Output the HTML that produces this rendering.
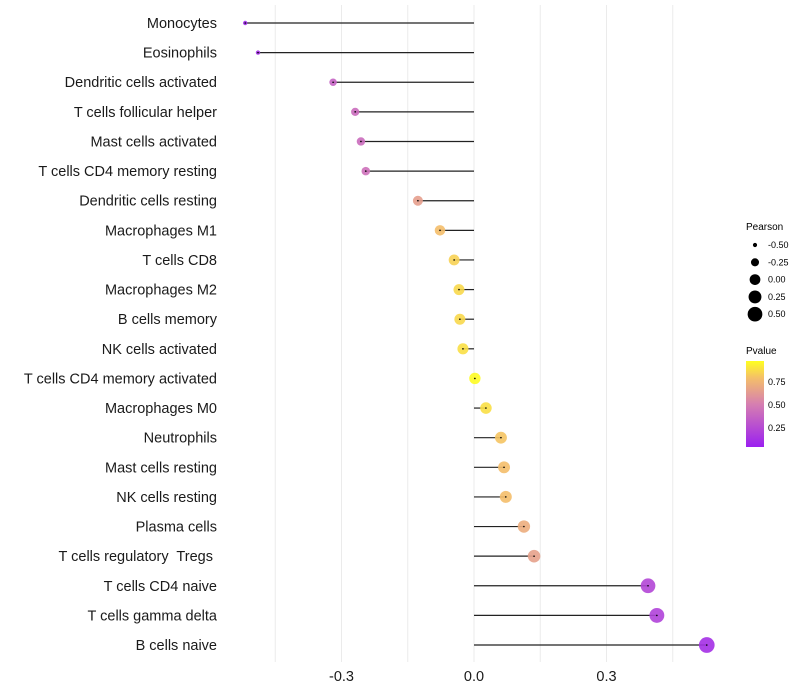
<!DOCTYPE html>
<html><head><meta charset="utf-8"><style>
body{margin:0;background:#fff;font-family:"Liberation Sans",sans-serif}
svg{display:block}
text{white-space:pre}
</style></head><body>
<svg id="chart" width="800" height="700">
<defs><linearGradient id="pg" x1="0" y1="1" x2="0" y2="0">
<stop offset="0" stop-color="#9B20F0"/><stop offset="0.5" stop-color="#D67FB0"/><stop offset="0.8" stop-color="#F4BE6A"/><stop offset="1" stop-color="#FFFF20"/></linearGradient></defs>
<g id="grid"></g>
<g id="marks"></g>
<g id="ylabels"></g>
<g id="xlabels"></g>
<g font-size="9">
<text x="746" y="230" font-size="10">Pearson</text>
<g id="sizeleg"></g>
</g>
<g font-size="9">
<text x="746" y="354" font-size="10">Pvalue</text>
<rect x="746" y="361" width="18" height="86" fill="url(#pg)"/>
<text x="768" y="385">0.75</text>
<text x="768" y="408">0.50</text>
<text x="768" y="431">0.25</text>
</g>
</svg>
<script>
const categories=["Monocytes","Eosinophils","Dendritic cells activated","T cells follicular helper","Mast cells activated","T cells CD4 memory resting","Dendritic cells resting","Macrophages M1","T cells CD8","Macrophages M2","B cells memory","NK cells activated","T cells CD4 memory activated","Macrophages M0","Neutrophils","Mast cells resting","NK cells resting","Plasma cells","T cells regulatory  Tregs ","T cells CD4 naive","T cells gamma delta","B cells naive"];
const pearson=[-0.518,-0.489,-0.319,-0.269,-0.256,-0.245,-0.127,-0.077,-0.045,-0.034,-0.032,-0.025,0.002,0.027,0.061,0.068,0.072,0.113,0.136,0.394,0.414,0.527];
const pvalue=[0.04,0.08,0.35,0.4,0.4,0.42,0.65,0.8,0.86,0.88,0.88,0.9,0.99,0.9,0.82,0.8,0.8,0.72,0.66,0.2,0.18,0.08];
const xTicks=[-0.3,0.0,0.3];
const xTickLabels=["-0.3","0.0","0.3"];
const sizeLegendVals=[-0.5,-0.25,0,0.25,0.5];
const sizeLegendLabels=["-0.50","-0.25","0.00","0.25","0.50"];
const NS="http://www.w3.org/2000/svg";
const x=v=>474+v*441.7;
const y=i=>23+i*29.62;
const r=p=>Math.sqrt(Math.max(4.8,32+56*p));
function col(p){
 const stops=[[0,[155,32,240]],[0.5,[214,127,176]],[0.8,[244,190,106]],[1,[255,255,32]]];
 for(let k=1;k<stops.length;k++){if(p<=stops[k][0]){const a=stops[k-1],b=stops[k];const t=(p-a[0])/(b[0]-a[0]);return `rgb(${a[1].map((c,j)=>Math.round(c+(b[1][j]-c)*t)).join(',')})`;}}
 return 'rgb(255,255,32)';}
function mk(t,at,parent){const e=document.createElementNS(NS,t);for(const k in at)e.setAttribute(k,at[k]);document.getElementById(parent).appendChild(e);return e;}
[-0.45,-0.3,-0.15,0,0.15,0.3,0.45].forEach(v=>{const l=mk('line',{x1:x(v),x2:x(v),y1:5,y2:662,stroke:'#ebebeb','stroke-width':1},'grid');

});
categories.forEach((c,i)=>{
 const t=mk('text',{x:217,y:y(i)+5,'text-anchor':'end','font-size':14.5,fill:'#1a1a1a'},'ylabels');t.textContent=c;
 
 
 const l=mk('line',{x1:x(0),x2:x(pearson[i]),y1:y(i),y2:y(i),stroke:'#222','stroke-width':1.2},'marks');
 
 
 const p=mk('circle',{cx:x(pearson[i]),cy:y(i),r:r(pearson[i]),fill:col(pvalue[i]),'fill-opacity':0.9},'marks');
 
 
 const d=mk('circle',{cx:x(pearson[i]),cy:y(i),r:0.8,fill:'#000'},'marks');
 
 
});
xTicks.forEach((v,i)=>{const t=mk('text',{x:x(v),y:681,'text-anchor':'middle','font-size':14.5,fill:'#1a1a1a'},'xlabels');t.textContent=xTickLabels[i];

});
sizeLegendVals.forEach((v,i)=>{const cy=245+i*17.3;
const c=mk('circle',{cx:755,cy:cy,r:r(v)*0.95,fill:'#000'},'sizeleg');


const t=mk('text',{x:768,y:cy+3,'font-size':9},'sizeleg');t.textContent=sizeLegendLabels[i];

});
</script>
</body></html>
